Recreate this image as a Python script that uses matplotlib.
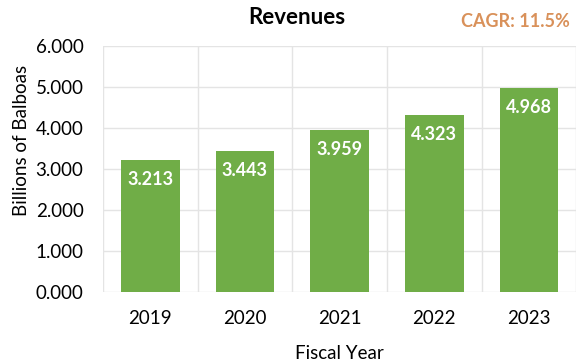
import numpy as np
import matplotlib.pyplot as plt

years = ['2019', '2020', '2021', '2022', '2023']
revenues = [3.213, 3.443, 3.959, 4.323, 4.968]
y_ticks = [0, 1, 2, 3, 4, 5, 6]

bar_color = '#70AD47'
grid_color = '#E4E4E4'

plt.rcParams['font.family'] = ['Lato', 'DejaVu Sans']

fig = plt.figure(figsize=(5.82, 3.64), dpi=100, facecolor='white')
ax = fig.add_axes([0.177, 0.198, 0.813, 0.676])

x = np.arange(len(years))
ax.bar(x, revenues, width=0.62, color=bar_color, zorder=3)

# value labels inside the top of each bar
for xi, v in zip(x, revenues):
    ax.annotate(f'{v:.3f}', (xi, v), xytext=(0, -8), textcoords='offset points',
                ha='center', va='top', color='white', fontsize=13, fontweight='bold')

ax.set_xlim(-0.5, len(years) - 0.5)
ax.set_ylim(0, 6)
ax.set_yticks(y_ticks)
ax.set_yticklabels([f'{t:.3f}' for t in y_ticks])
ax.set_xticks(x)
ax.set_xticklabels(years)

# vertical gridlines at category boundaries
for b in np.arange(-0.5, len(years) + 0.5, 1):
    ax.axvline(b, color=grid_color, lw=1, zorder=0)
ax.yaxis.grid(True, color=grid_color, lw=1, zorder=0)
ax.set_axisbelow(True)

for s in ax.spines.values():
    s.set_visible(False)
ax.tick_params(axis='both', length=0, labelsize=13.5, colors='black')
ax.tick_params(axis='x', pad=13)
ax.tick_params(axis='y', pad=14)

ax.set_xlabel('Fiscal Year', fontsize=13.5, labelpad=13)

fig.text(0.037, 0.613, 'Billions of Balboas', rotation=90, ha='center', va='center',
         fontsize=13.5)
fig.text(0.51, 0.953, 'Revenues', ha='center', va='center', fontsize=16, fontweight='bold')
fig.text(0.885, 0.94, 'CAGR: 11.5%', ha='center', va='center', fontsize=13,
         fontweight='bold', color='#D9915A')

fig.savefig('out.png', dpi=100, facecolor='white')
